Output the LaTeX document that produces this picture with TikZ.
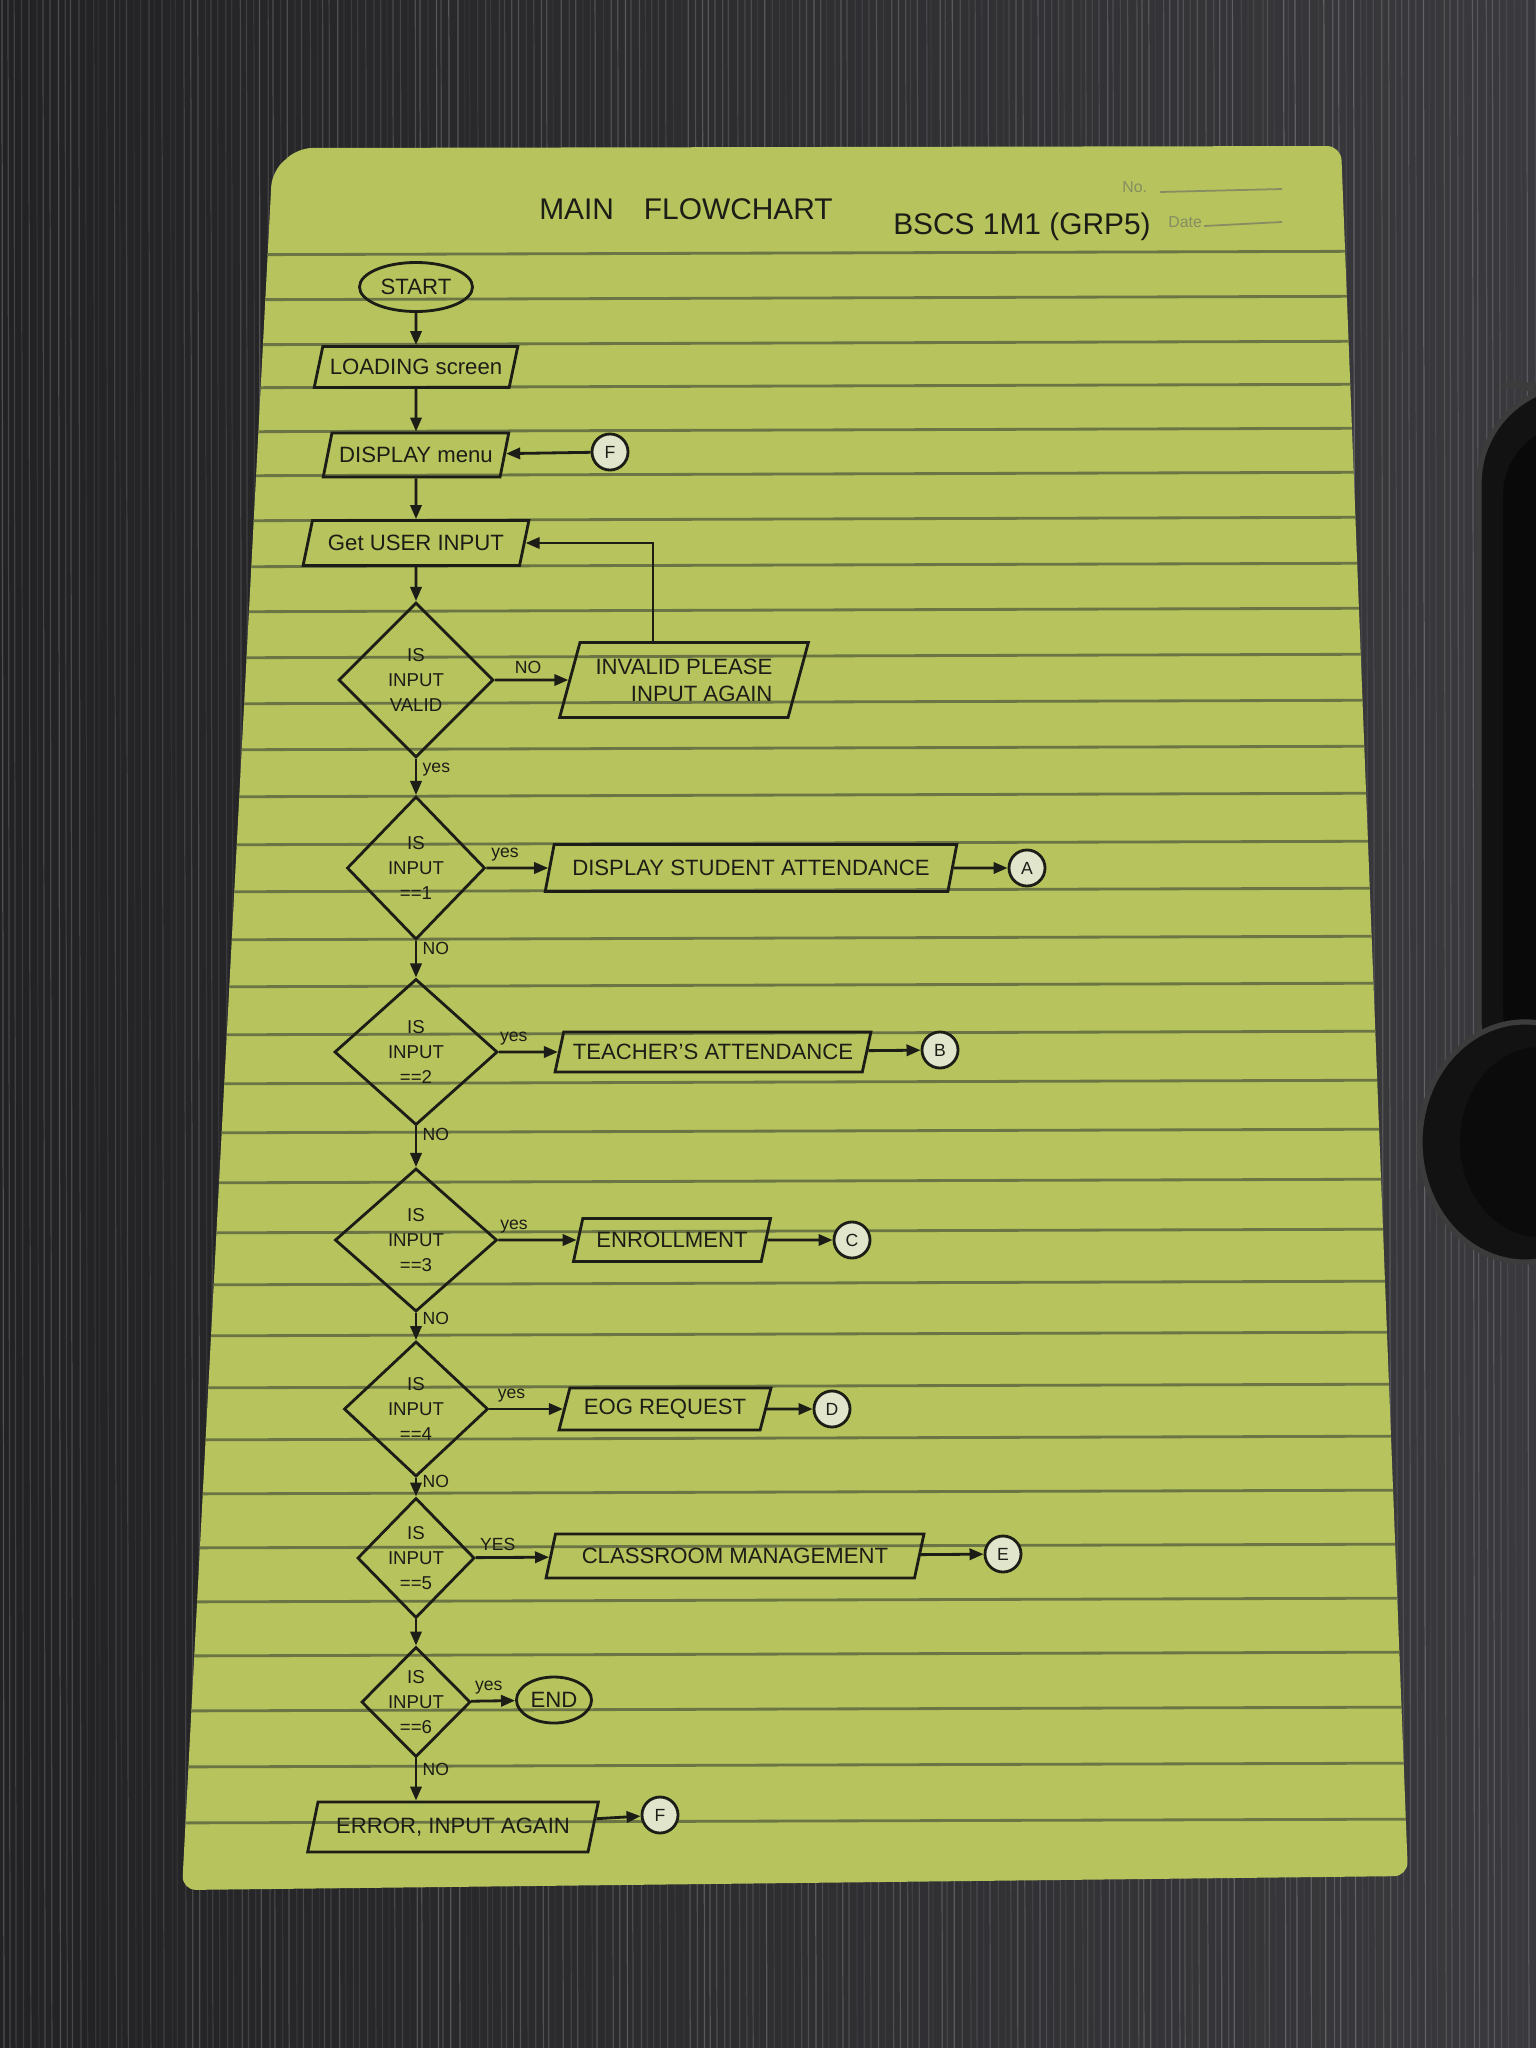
\documentclass[tikz,border=0pt]{standalone}
\usepackage{fontspec}
\setmainfont{Liberation Sans}
\usetikzlibrary{shapes.geometric,arrows.meta,calc}
\definecolor{bgl}{HTML}{222224}
\definecolor{bgr}{HTML}{3A3A3E}
\definecolor{paperc}{HTML}{B7C35C}
\definecolor{rulec}{HTML}{6A7444}
\definecolor{inkc}{HTML}{1C1D16}
\definecolor{patchc}{HTML}{E0E5CC}
\definecolor{printc}{HTML}{868D62}
\definecolor{clipc}{HTML}{121212}
\definecolor{cliprim}{HTML}{3C3C3C}
\newcommand\bxf{\fontsize{6.3}{7.6}\selectfont}
\newcommand\dcf{\fontsize{5.3}{7}\selectfont}
\newcommand\lbf{\fontsize{5}{6}\selectfont}
\newcommand\cnf{\fontsize{5}{6}\selectfont}
\newcommand\ttlf{\fontsize{8.5}{10}\selectfont}
\newcommand\prf{\fontsize{4.5}{5}\selectfont}
\begin{document}
\begin{tikzpicture}[x=0.01cm,y=-0.01cm,
  ink/.style={draw=inkc,line width=0.8pt,text=inkc},
  iobox/.style={ink,trapezium,trapezium left angle=70,trapezium right angle=110,trapezium stretches=true,inner sep=1pt,font=\bxf},
  decision/.style={ink,diamond,inner sep=-5pt,align=center,font=\dcf},
  terminal/.style={ink,ellipse,inner sep=0pt,font=\bxf},
  offpage/.style={ink,circle,fill=patchc,minimum size=0.36cm,inner sep=0pt,font=\cnf},
  flow/.style={draw=inkc,line width=0.8pt,-{Triangle[length=4pt,width=3.2pt]}},
  lbl/.style={font=\lbf,text=inkc,inner sep=1.5pt},
  rule/.style={draw=rulec,line width=0.8pt},
]
\useasboundingbox (0,0) rectangle (1536,2048);
% background
\shade[left color=bgl,right color=bgr] (0,0) rectangle (1536,2048);
\pgfmathsetseed{11}
\foreach \i in {0,...,220}{
  \pgfmathsetmacro\xx{\i*7+3*rnd}
  \pgfmathsetmacro\oo{0.04+0.18*rnd}
  \draw[white,opacity=\oo,line width=0.35pt] (\xx,0) -- (\xx+2,2048);
}
% binder clip
\fill[clipc,rounded corners=28] (1479,385) rectangle (1600,1120);
\draw[cliprim,line width=1.5pt,rounded corners=28] (1479,385) rectangle (1600,1120);
\fill[black!85!bgr,rounded corners=20] (1503,425) rectangle (1600,1080);
\fill[clipc] (1525,1142) ellipse [x radius=1.05cm,y radius=1.2cm];
\draw[cliprim,line width=1.5pt] (1525,1142) ellipse [x radius=1.05cm,y radius=1.2cm];
\fill[black!80!bgr] (1540,1142) ellipse [x radius=0.8cm,y radius=0.95cm];
% paper
\fill[paperc,rounded corners=4pt] (272,172) -- (298,148) -- (1341,146) -- (1408,1876) -- (182,1890) -- cycle;
\begin{scope}
  \clip (272,172) -- (298,148) -- (1341,146) -- (1408,1876) -- (182,1890) -- cycle;
  \foreach \y in {255,300,345,388,432,476,521,567,612,658,704,750,797,845,892,940,987,1035,1084,1133,1183,1233,1285,1336,1388,1440,1494,1548,1602,1656,1711,1767,1823}
    \draw[rule] (150,\y) -- (1450,\y-4);
\end{scope}
% header
\node[font=\prf,text=printc,anchor=west] (nolbl) at (1110,187) {No.};
\draw[printc,line width=0.5pt] (1160,192) -- (1282,189);
\node[font=\prf,text=printc,anchor=west] (datelbl) at (1156,222) {Date};
\draw[printc,line width=0.5pt] (1204,226) -- (1282,222);
\node[font=\ttlf,text=inkc] (title) at (686,209) {MAIN\quad FLOWCHART};
\node[font=\ttlf,text=inkc] (grp) at (1022,227) {BSCS 1M1 (GRP5)};
% main column
\node[terminal,minimum width=1.13cm,minimum height=0.49cm] (start) at (416,287) {START};
\node[iobox,minimum width=2.04cm,minimum height=0.41cm] (load) at (416,367) {LOADING screen};
\node[iobox,minimum width=1.86cm,minimum height=0.44cm] (disp) at (416,455) {DISPLAY menu};
\node[offpage] (cFtop) at (610,452) {F};
\node[iobox,minimum width=2.26cm,minimum height=0.45cm] (get) at (416,543) {Get USER INPUT};
\node[decision,minimum width=1.55cm,minimum height=1.55cm] (d1) at (416,680) {IS\\INPUT\\VALID};
\node[iobox,minimum width=2.50cm,minimum height=0.75cm,align=right] (inv) at (684,680) {INVALID PLEASE\\INPUT AGAIN};
\node[decision,minimum width=1.38cm,minimum height=1.43cm] (d2) at (416,868) {IS\\INPUT\\==1};
\node[iobox,minimum width=4.12cm,minimum height=0.47cm] (dsa) at (751,868) {DISPLAY STUDENT ATTENDANCE};
\node[offpage] (cA) at (1027,868) {A};
\node[decision,minimum width=1.63cm,minimum height=1.46cm] (d3) at (416,1052) {IS\\INPUT\\==2};
\node[iobox,minimum width=3.18cm,minimum height=0.40cm] (ta) at (713,1052) {TEACHER'S ATTENDANCE};
\node[offpage] (cB) at (940,1050) {B};
\node[decision,minimum width=1.62cm,minimum height=1.43cm] (d4) at (416,1240) {IS\\INPUT\\==3};
\node[iobox,minimum width=1.98cm,minimum height=0.43cm] (enr) at (672,1240) {ENROLLMENT};
\node[offpage] (cC) at (852,1240) {C};
\node[decision,minimum width=1.44cm,minimum height=1.35cm] (d5) at (416,1409) {IS\\INPUT\\==4};
\node[iobox,minimum width=2.12cm,minimum height=0.42cm] (eog) at (665,1409) {EOG REQUEST};
\node[offpage] (cD) at (832,1409) {D};
\node[decision,minimum width=1.17cm,minimum height=1.20cm] (d6) at (416,1558) {IS\\INPUT\\==5};
\node[iobox,minimum width=3.80cm,minimum height=0.44cm] (cm) at (735,1556) {CLASSROOM MANAGEMENT};
\node[offpage] (cE) at (1003,1554) {E};
\node[decision,minimum width=1.09cm,minimum height=1.10cm] (d7) at (416,1702) {IS\\INPUT\\==6};
\node[terminal,minimum width=0.75cm,minimum height=0.46cm] (endn) at (554,1700) {END};
\node[iobox,minimum width=2.92cm,minimum height=0.50cm] (err) at (453,1827) {ERROR, INPUT AGAIN};
\node[offpage] (cF) at (660,1815) {F};
% connectors
\draw[flow] (start) -- (load);
\draw[flow] (load) -- (disp);
\draw[flow] (cFtop) -- (disp);
\draw[flow] (disp) -- (get);
\draw[flow] (get) -- (d1);
\draw[flow] (d1) -- node[lbl,above,pos=0.45]{NO} (inv);
\draw[flow] ([xshift=-0.31cm]inv.north) |- (get);
\draw[flow] (d1) -- node[lbl,right,pos=0.3]{yes} (d2);
\draw[flow] (d2) -- node[lbl,above,pos=0.3]{yes} (dsa);
\draw[flow] (dsa) -- (cA);
\draw[flow] (d2) -- node[lbl,right,pos=0.2]{NO} (d3);
\draw[flow] (d3) -- node[lbl,above,pos=0.25]{yes} (ta);
\draw[flow] (ta) -- (cB);
\draw[flow] (d3) -- node[lbl,right,pos=0.2]{NO} (d4);
\draw[flow] (d4) -- node[lbl,above,pos=0.2]{yes} (enr);
\draw[flow] (enr) -- (cC);
\draw[flow] (d4) -- node[lbl,right,pos=0.2]{NO} (d5);
\draw[flow] (d5) -- node[lbl,above,pos=0.3]{yes} (eog);
\draw[flow] (eog) -- (cD);
\draw[flow] (d5) -- node[lbl,right,pos=0.2]{NO} (d6);
\draw[flow] (d6) -- node[lbl,above,pos=0.3]{YES} (cm);
\draw[flow] (cm) -- (cE);
\draw[flow] (d6) -- (d7);
\draw[flow] (d7) -- node[lbl,above,pos=0.4]{yes} (endn);
\draw[flow] (d7.south) -- node[lbl,right,pos=0.25]{NO} (d7.south |- err.north);
\draw[flow] (err) -- (cF);
\end{tikzpicture}
\end{document}
